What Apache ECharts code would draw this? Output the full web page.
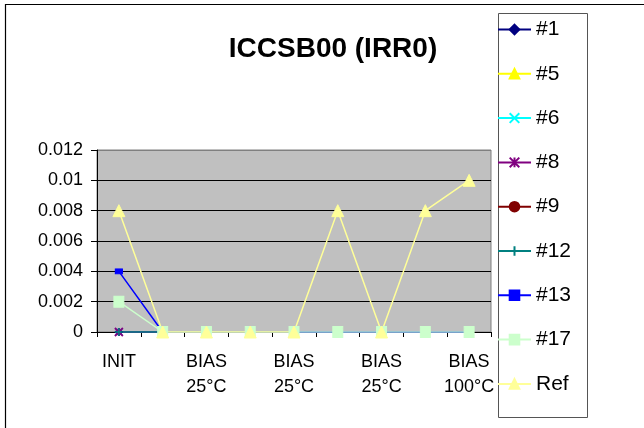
<!DOCTYPE html>
<html>
<head>
<meta charset="utf-8">
<script src="https://cdn.jsdelivr.net/npm/echarts@6/dist/echarts.min.js"></script>
<style>
  html, body { margin: 0; padding: 0; background: #fff; }
  #chart { width: 644px; height: 428px; }
</style>
</head>
<body>
<div id="chart"></div>
<script>
// Test steps (every other step label is drawn on the axis)
var categories = ['INIT', 'BIAS\n25°C', 'BIAS\n25°C', 'BIAS\n25°C', 'BIAS\n25°C',
                  'BIAS\n25°C', 'BIAS\n25°C', 'BIAS\n100°C', 'BIAS\n100°C'];

// ICCSB00 readings per device
var s1   = [0, 0, 0, 0, 0, 0, 0, 0, 0];
var s5   = [null, null, null, null, null, null, null, null, null];
var s6   = [0, 0, 0, 0, 0, 0, 0, 0, 0];
var s8   = [0, 0, 0, 0, 0, 0, 0, 0, 0];
var s9   = [null, null, null, null, null, null, null, null, null];
var s12  = [0, 0, 0, 0, 0, 0, 0, 0, 0];
var s13  = [0.004, 0, 0, 0, 0, 0, 0, 0, 0];
var s17  = [0.002, 0, 0, 0, 0, 0, 0, 0, 0];
var sRef = [0.008, 0, 0, 0, 0, 0.008, 0, 0.008, 0.01];

var yTicks = [0, 0.002, 0.004, 0.006, 0.008, 0.01, 0.012];

var FONT = '"Liberation Sans", Arial, sans-serif';

function line(name, data, color, symbol, size, extra) {
  var s = {
    name: name,
    type: 'line',
    data: data,
    symbol: symbol,
    symbolSize: size,
    showAllSymbol: true,
    connectNulls: false,
    animation: false,
    lineStyle: { color: color, width: 1.5 },
    itemStyle: { color: color, borderColor: color, borderWidth: 1 }
  };
  if (extra) { for (var k in extra) s[k] = extra[k]; }
  return s;
}

var chart = echarts.init(document.getElementById('chart'), null, { renderer: 'canvas' });

chart.setOption({
  animation: false,
  backgroundColor: '#ffffff',
  title: {
    text: 'ICCSB00 (IRR0)',
    left: 333,
    top: 35,
    textAlign: 'center',
    padding: 0,
    textStyle: { fontFamily: FONT, fontSize: 28, fontWeight: 'bold', color: '#000' }
  },
  graphic: [
    { type: 'rect', silent: true, z: -10,
      shape: { x: 5.5, y: 4.5, width: 700, height: 600 },
      style: { fill: null, stroke: '#000', lineWidth: 1.2 } },
    { type: 'rect', silent: true, z: -5,
      shape: { x: 498.5, y: 13.5, width: 89, height: 404 },
      style: { fill: '#fff', stroke: '#555', lineWidth: 1 } }
  ],
  legend: {
    orient: 'vertical',
    left: 497,
    top: 17.5,
    padding: 0,
    itemWidth: 33,
    itemHeight: 12,
    itemGap: 20.3,
    textStyle: { fontFamily: FONT, fontSize: 21, color: '#000', lineHeight: 24 },
    data: ['#1', '#5', '#6', '#8', '#9', '#12', '#13', '#17', 'Ref']
  },
  grid: {
    left: 97, right: 153, top: 150, bottom: 96,
    show: true,
    backgroundColor: '#c0c0c0',
    borderColor: '#808080',
    borderWidth: 1
  },
  xAxis: {
    type: 'category',
    data: categories,
    boundaryGap: true,
    axisLine: { lineStyle: { color: '#000', width: 1 } },
    axisTick: { show: true, interval: 0, length: 5, lineStyle: { color: '#000' } },
    axisLabel: {
      interval: 1,
      margin: 18,
      fontFamily: FONT,
      fontSize: 18,
      lineHeight: 25,
      color: '#000'
    },
    splitLine: { show: false }
  },
  yAxis: {
    type: 'value',
    min: yTicks[0],
    max: yTicks[yTicks.length - 1],
    interval: 0.002,
    axisLine: { show: true, lineStyle: { color: '#000', width: 1 } },
    axisTick: { show: true, length: 6, lineStyle: { color: '#000' } },
    axisLabel: {
      margin: 14,
      fontFamily: FONT,
      fontSize: 18,
      color: '#000',
      formatter: function (v) { return String(+v.toFixed(3)); }
    },
    splitLine: {
      show: true,
      lineStyle: { color: ['#000', '#000', '#000', '#000', '#000', '#000', '#808080'], width: 1.2 }
    }
  },
  series: [
    line('#1', s1, '#000080', 'diamond', 8),
    line('#5', s5, '#ffff00', 'triangle', 10),
    line('#6', s6, '#00ffff', 'path://M0,0L10,10M10,0L0,10', 7,
         { itemStyle: { color: '#00ffff', borderColor: '#00ffff', borderWidth: 1.5 } }),
    line('#8', s8, '#800080', 'path://M5,0L5,10M0,0L10,10M10,0L0,10', 8,
         { itemStyle: { color: '#800080', borderColor: '#800080', borderWidth: 1.8 } }),
    line('#9', s9, '#800000', 'circle', 9),
    line('#12', s12, '#008080', 'path://M5,0L5,10M0,5L10,5', 8,
         { itemStyle: { color: '#008080', borderColor: '#008080', borderWidth: 1.5 } }),
    line('#13', s13, '#0000ff', 'rect', [7, 5]),
    line('#17', s17, '#ccffcc', 'rect', [10, 11]),
    line('Ref', sRef, '#ffff99', 'triangle', [12, 12])
  ]
});
</script>
</body>
</html>
